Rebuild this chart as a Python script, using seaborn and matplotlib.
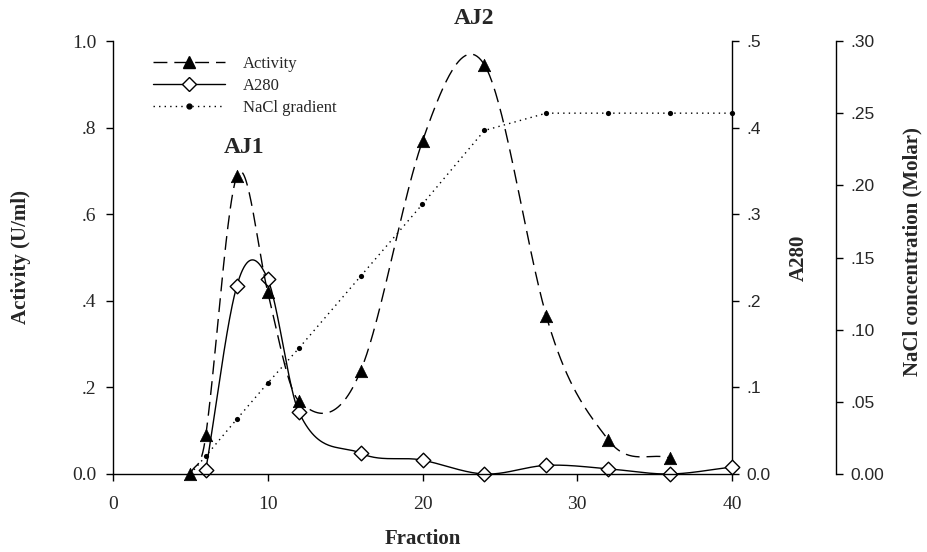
import numpy as np
import pandas as pd
import matplotlib
matplotlib.use("Agg")
import matplotlib.pyplot as plt
from matplotlib.lines import Line2D
import seaborn as sns

# ---- data ----
act_x = [5, 6, 8, 10, 12, 16, 20, 24, 28, 32, 36]
act_y = [0.0, 0.09, 0.688, 0.42, 0.169, 0.238, 0.769, 0.945, 0.365, 0.079, 0.037]
a280_x = [6, 8, 10, 12, 16, 20, 24, 28, 32, 36, 40]
a280_y = [0.005, 0.217, 0.225, 0.072, 0.024, 0.016, 0.0, 0.010, 0.006, 0.0, 0.008]
nacl_x = [5, 6, 8, 10, 12, 16, 20, 24, 28, 32, 36, 40]
nacl_y = [0.0, 0.0125, 0.038, 0.063, 0.087, 0.137, 0.187, 0.238, 0.25, 0.25, 0.25, 0.25]

left_ticks = [0, 0.2, 0.4, 0.6, 0.8, 1.0]
left_labels = ["0.0", ".2", ".4", ".6", ".8", "1.0"]
a280_ticks = [0, 0.1, 0.2, 0.3, 0.4, 0.5]
a280_labels = ["0.0", ".1", ".2", ".3", ".4", ".5"]
nacl_ticks = [0, 0.05, 0.10, 0.15, 0.20, 0.25, 0.30]
nacl_labels = ["0.00", ".05", ".10", ".15", ".20", ".25", ".30"]
x_ticks = [0, 10, 20, 30, 40]


def cardinal_spline(x, y, scale=1.15, n_per=60):
    """Hermite spline through the points (SigmaPlot-style smooth curve)."""
    x = np.asarray(x, float); y = np.asarray(y, float)
    m = np.zeros(len(x))
    m[0] = (y[1] - y[0]) / (x[1] - x[0])
    m[-1] = (y[-1] - y[-2]) / (x[-1] - x[-2])
    for i in range(1, len(x) - 1):
        m[i] = scale * (y[i + 1] - y[i - 1]) / (x[i + 1] - x[i - 1])
    xs_all, ys_all = [], []
    for i in range(len(x) - 1):
        h = x[i + 1] - x[i]
        t = np.linspace(0, 1, n_per, endpoint=(i == len(x) - 2))
        h00 = 2 * t**3 - 3 * t**2 + 1
        h10 = t**3 - 2 * t**2 + t
        h01 = -2 * t**3 + 3 * t**2
        h11 = t**3 - t**2
        xs_all.append(x[i] + t * h)
        ys_all.append(h00 * y[i] + h10 * h * m[i] + h01 * y[i + 1] + h11 * h * m[i + 1])
    return np.concatenate(xs_all), np.concatenate(ys_all)


sns.set_style("ticks")
serif = "Liberation Serif"
sans = "Liberation Sans"
plt.rcParams["font.family"] = [serif, "DejaVu Serif"]

fig = plt.figure(figsize=(9.27, 5.52), dpi=100)
ax = fig.add_axes([113 / 927, 78 / 552, 619 / 927, 433 / 552])
ax2 = ax.twinx()
ax3 = ax.twinx()

dash = (0, (10, 5))
dot = (0, (1, 3))

# Activity
sx, sy = cardinal_spline(act_x, act_y)
sns.lineplot(x=sx, y=sy, ax=ax, color="black", lw=1.0, sort=False)
ax.lines[-1].set_linestyle(dash)
sns.scatterplot(x=act_x, y=act_y, ax=ax, marker="^", s=80, color="black",
                edgecolor="black", linewidth=0.5, zorder=5, clip_on=False)

# A280
sx2, sy2 = cardinal_spline(a280_x, a280_y)
sns.lineplot(x=sx2, y=sy2, ax=ax2, color="black", lw=1.0, sort=False)
sns.scatterplot(x=a280_x, y=a280_y, ax=ax2, marker="D", s=55, color="white",
                edgecolor="black", linewidth=1.0, zorder=6, clip_on=False)

# NaCl
sns.lineplot(x=nacl_x, y=nacl_y, ax=ax3, color="black", lw=1.0, sort=False)
ax3.lines[-1].set_linestyle(dot)
sns.scatterplot(x=nacl_x[1:], y=nacl_y[1:], ax=ax3, marker="o", s=14, color="black",
                edgecolor="black", linewidth=0, zorder=4, clip_on=False)

for a in (ax, ax2, ax3):
    a.set_xlim(0, 40)
ax.set_ylim(0, 1.0)
ax2.set_ylim(0, 0.5)
ax3.set_ylim(0, 0.30)

ax.set_zorder(3); ax.patch.set_visible(False)
ax2.set_zorder(2); ax3.set_zorder(1)

# spines
ax.spines["top"].set_visible(False)
ax.spines["right"].set_visible(False)
for s in ("top", "left", "bottom"):
    ax2.spines[s].set_visible(False)
    ax3.spines[s].set_visible(False)
ax3.spines["right"].set_position(("axes", 723 / 619))
for a in (ax, ax2, ax3):
    for s in a.spines.values():
        s.set_linewidth(1.0)
        s.set_color("black")

ax.set_xticks(x_ticks)
ax.set_xticklabels([str(t) for t in x_ticks], fontfamily=serif, fontsize=14)
ax.set_yticks(left_ticks)
ax.set_yticklabels(left_labels, fontfamily=serif, fontsize=14)
ax2.set_yticks(a280_ticks)
ax2.set_yticklabels(a280_labels, fontfamily=sans, fontsize=12.5)
ax3.set_yticks(nacl_ticks)
ax3.set_yticklabels(nacl_labels, fontfamily=sans, fontsize=12.5)
for a in (ax, ax2, ax3):
    a.tick_params(direction="out", length=5, width=1, color="black", pad=5)
ax.tick_params(axis="x", pad=11)
ax.tick_params(axis="y", pad=7)

lab = dict(fontfamily=serif, fontsize=15, fontweight="bold")
ax.set_xlabel("Fraction", **lab)
ax.xaxis.set_label_coords(0.5, (474 - 539) / 433)
ax.xaxis.label.set_va("center")
ax.set_ylabel("Activity (U/ml)", **lab)
ax.yaxis.set_label_coords((21 - 113) / 619, 0.5)
ax.yaxis.label.set_va("center")
ax2.set_ylabel("A280", **lab)
ax2.yaxis.set_label_coords((799 - 113) / 619, 0.5)
ax2.yaxis.label.set_va("center")
ax3.set_ylabel("NaCl concentration (Molar)", **lab)
ax3.yaxis.set_label_coords((912 - 113) / 619, (474 - 252) / 433)
ax3.yaxis.label.set_va("center")
for a in (ax, ax2, ax3):
    if a.get_legend():
        a.get_legend().remove()

ax.text(8.46, 0.755, "AJ1", fontfamily=serif, fontsize=17, fontweight="bold",
        ha="center", va="center")
ax.text(23.3, 1.053, "AJ2", fontfamily=serif, fontsize=17, fontweight="bold",
        ha="center", va="center", clip_on=False)

handles = [
    Line2D([], [], color="black", lw=1.0, linestyle=dash, marker="^",
           markersize=9, markerfacecolor="black", markeredgecolor="black"),
    Line2D([], [], color="black", lw=1.0, marker="D", markersize=7.5,
           markerfacecolor="white", markeredgecolor="black"),
    Line2D([], [], color="black", lw=1.0, linestyle=dot, marker="o",
           markersize=3.5, markerfacecolor="black", markeredgecolor="black"),
]
leg = ax.legend(handles, ["Activity", "A280", "NaCl gradient"], loc="upper left",
                bbox_to_anchor=((153 - 113) / 619, (474 - 56) / 433), frameon=False,
                numpoints=1, borderpad=0, borderaxespad=0,
                handlelength=4.3, handletextpad=1.1, labelspacing=0.35,
                prop={"family": serif, "size": 12})

fig.savefig("out.png", dpi=100)
